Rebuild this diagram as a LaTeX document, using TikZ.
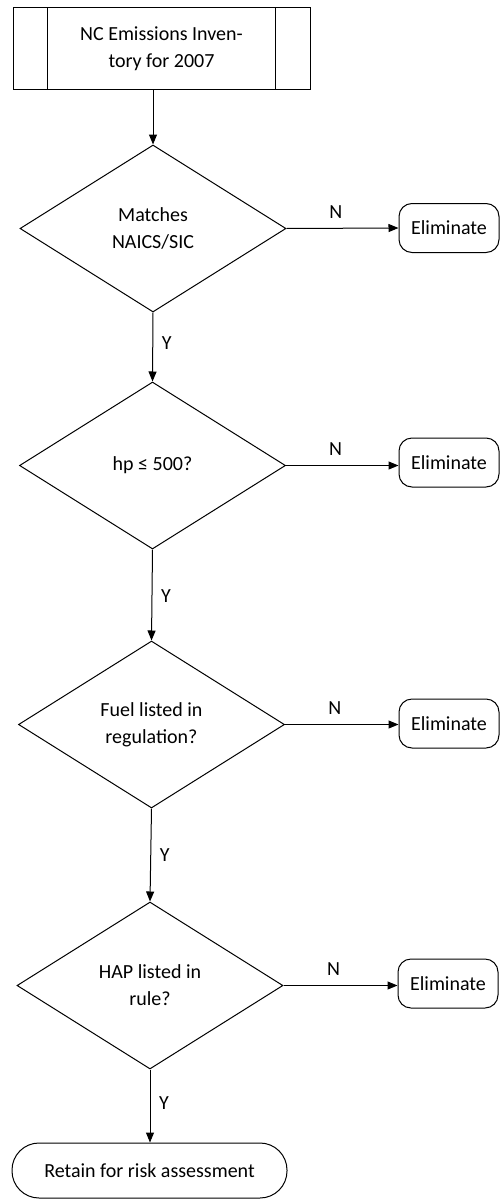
\documentclass[tikz,border=0pt]{standalone}
\usepackage{fontspec}
\setmainfont{Carlito}
\usetikzlibrary{shapes.geometric,arrows.meta}
\begin{document}
\begin{tikzpicture}[x=1pt,y=-1pt,
  every node/.style={font=\fontsize{20}{27}\selectfont, align=center},
  line/.style={line width=1pt},
  arr/.style={line width=1pt, -{Triangle[length=10pt,width=8pt]}},
  decision/.style={diamond, draw, line width=1pt, minimum width=266pt, minimum height=167pt, inner sep=0pt},
  elim/.style={draw, line width=1pt, rounded corners=13pt, minimum width=100pt, minimum height=49pt, inner sep=0pt},
  term/.style={draw, line width=1pt, rounded corners=27pt, minimum width=275pt, minimum height=55pt, inner sep=0pt},
  proc/.style={draw, line width=1pt, minimum width=297pt, minimum height=81pt, inner sep=0pt},
  lab/.style={font=\fontsize{20}{22}\selectfont}]
\useasboundingbox (0,0) rectangle (500,1199);

\node[proc] (top) at (161.5,48.5) {NC Emissions Inven-\\tory for 2007};
\draw[line] ([xshift=35pt]top.north west) -- ([xshift=35pt]top.south west);
\draw[line] ([xshift=-35pt]top.north east) -- ([xshift=-35pt]top.south east);

\node[decision] (d1) at (153,228.5) {Matches\\NAICS/SIC};
\node[decision] (d2) at (152.5,465.5) {hp ≤ 500?};
\node[decision] (d3) at (151.5,724.5) {Fuel listed in\\regulation?};
\node[decision] (d4) at (150,985.5) {HAP listed in\\rule?};

\node[elim] (e1) at (449,228) {Eliminate};
\node[elim] (e2) at (449,462.5) {Eliminate};
\node[elim] (e3) at (449,723.5) {Eliminate};
\node[elim] (e4) at (448,983.5) {Eliminate};

\node[term] (end) at (149.5,1170.5) {Retain for risk assessment};

\draw[arr] (d1.north |- top.south) -- (d1.north);

\draw[arr] (d1.south) -- node[lab, midway, xshift=14pt, yshift=4pt] {Y} (d2.north);
\draw[arr] (d2.south) -- node[lab, midway, xshift=14pt, yshift=-1pt] {Y} (d3.north);
\draw[arr] (d3.south) -- node[lab, midway, xshift=14pt] {Y} (d4.north);
\draw[arr] (d4.south) -- node[lab, midway, xshift=14pt, yshift=3pt] {Y} (end.north -| d4.south);

\draw[arr] (d1.east) -- node[lab, pos=0.44, yshift=16pt] {N} (e1.west);
\draw[arr] (d2.east) -- node[lab, pos=0.44, yshift=16pt] {N} (e2.west |- d2.east);
\draw[arr] (d3.east) -- node[lab, pos=0.44, yshift=16pt] {N} (e3.west |- d3.east);
\draw[arr] (d4.east) -- node[lab, pos=0.44, yshift=16pt] {N} (e4.west |- d4.east);
\end{tikzpicture}
\end{document}
